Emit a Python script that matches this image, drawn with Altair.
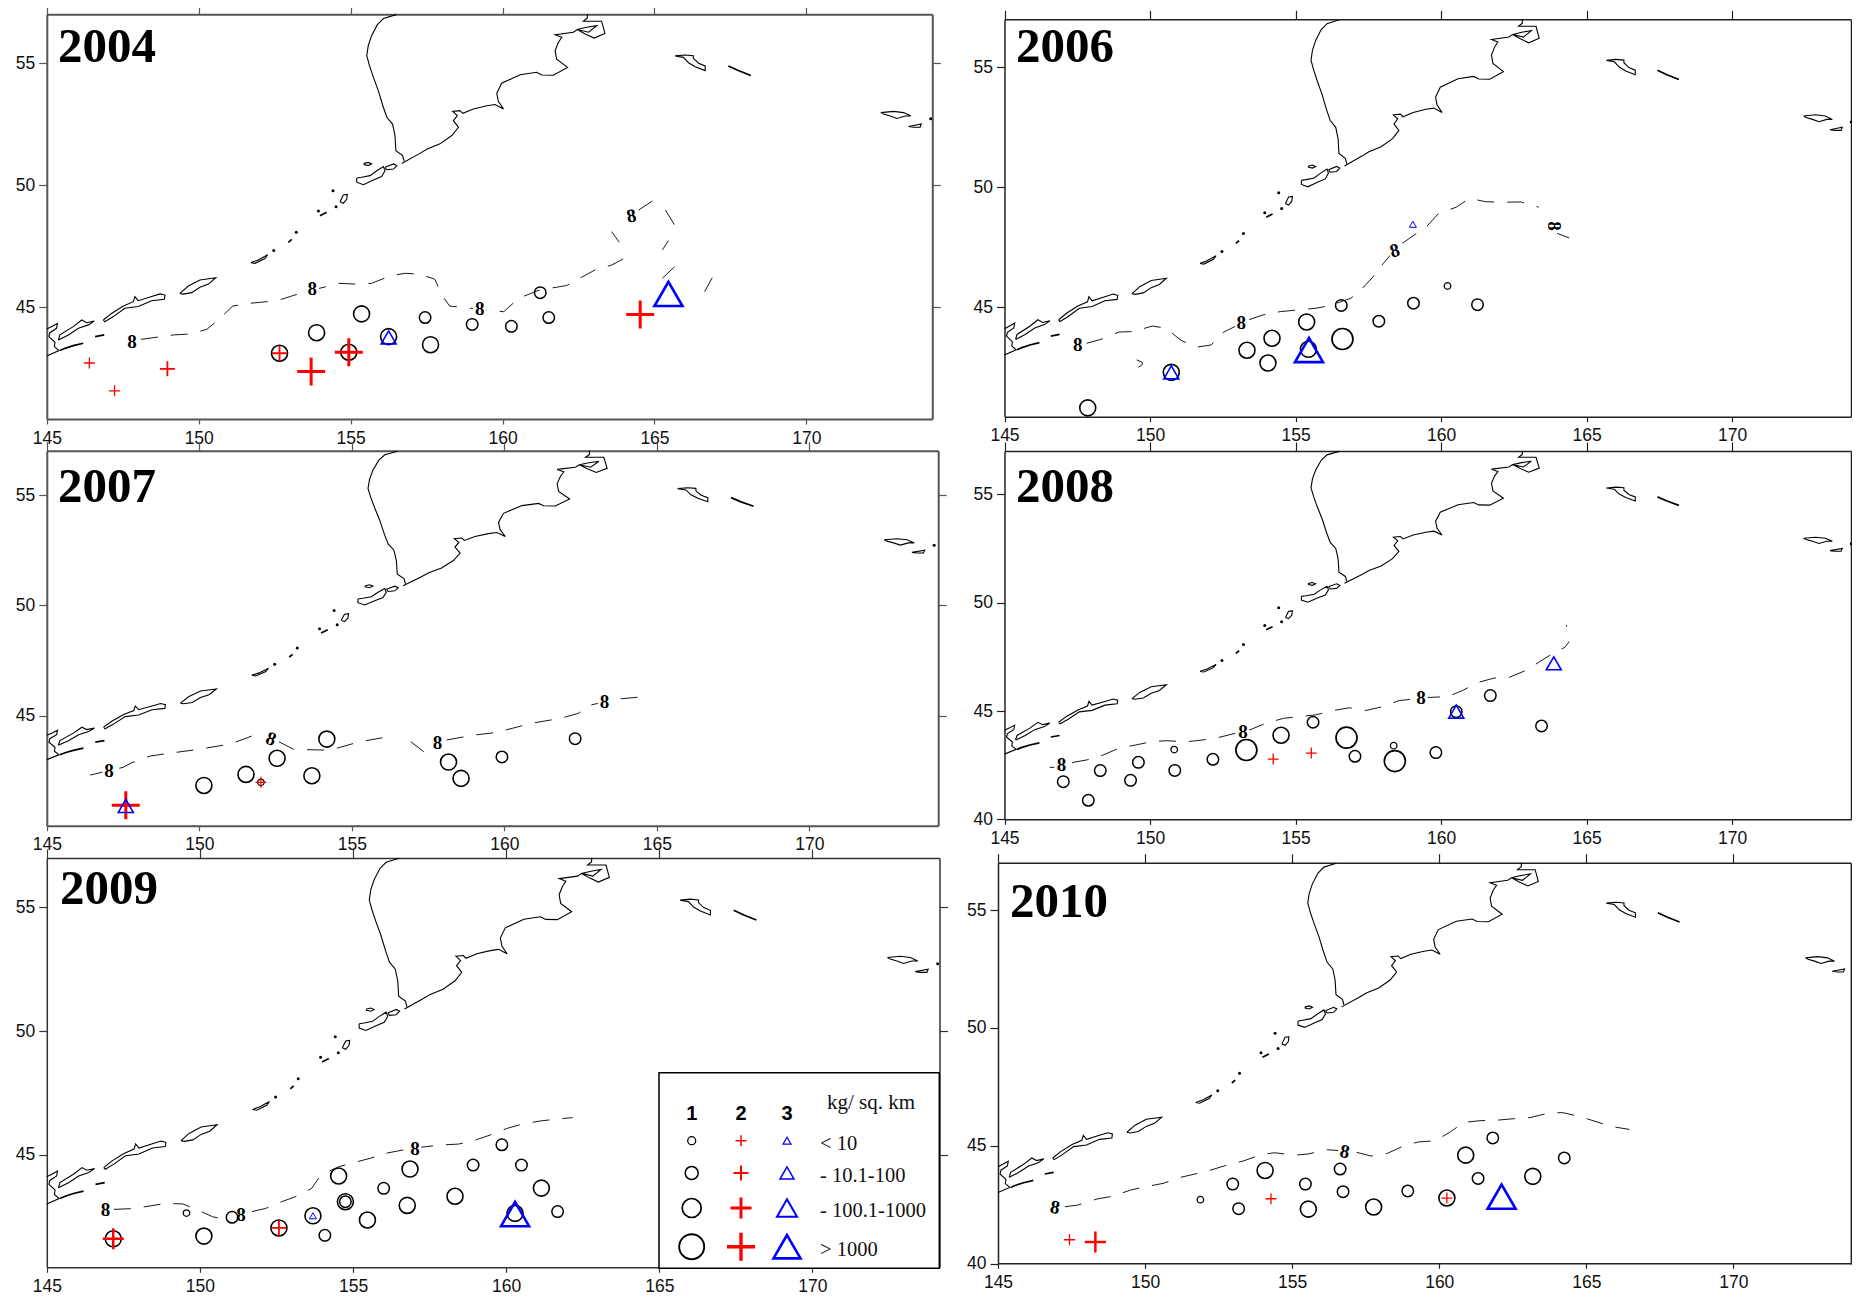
import altair as alt
import pandas as pd

# ---- geography (lon, lat) ----
KAM_WEST = [(156.50,56.98),(156.08,56.82),(155.88,56.57),(155.69,56.12),(155.58,55.71),(155.53,55.30),(155.62,54.89),(155.75,54.41),(155.91,53.87),(156.06,53.25),(156.19,52.78),(156.38,52.50),(156.46,52.03),(156.49,51.41),(156.71,51.21),(156.76,50.98)]
KAM_EAST = [(156.68,50.89),(157.28,51.30),(157.52,51.48),(157.94,51.69),(158.33,52.03),(158.55,52.37),(158.38,52.64),(158.51,52.85),(158.36,53.02),(158.60,53.05),(158.69,52.94),(159.04,53.12),(159.48,53.25),(159.75,53.30),(160.03,53.12),(159.86,53.43),(159.81,53.76),(159.97,54.17),(160.58,54.52),(161.12,54.62),(161.29,54.51),(161.67,54.50),(162.14,54.82),(161.78,55.16),(161.73,55.51),(161.84,55.85),(161.95,56.05),(161.73,56.16),(162.33,56.26),(162.46,56.37),(162.77,56.46),(163.10,56.53),(162.83,56.26),(162.46,56.37),(162.72,56.19),(163.01,56.02),(163.37,56.21),(163.26,56.71),(162.88,56.71),(162.66,56.71),(162.79,56.84),(162.79,57.0)]
PARAMUSHIR = [(155.20,50.29),(155.36,50.32),(155.64,50.39),(155.86,50.59),(156.08,50.76),(156.13,50.59),(156.02,50.35),(155.75,50.21),(155.42,50.02),(155.20,50.12),(155.20,50.29)]
SHUMSHU = [(156.13,50.73),(156.41,50.87),(156.52,50.80),(156.41,50.66),(156.19,50.63),(156.13,50.73)]
ALAID = [(155.44,50.89),(155.58,50.93),(155.69,50.87),(155.58,50.80),(155.44,50.84),(155.44,50.89)]
ONEKOTAN = [(154.65,49.32),(154.76,49.60),(154.89,49.62),(154.87,49.42),(154.76,49.26),(154.65,49.32)]
SIMUSHIR = [(151.72,46.83),(151.96,46.94),(152.27,47.15),(152.18,47.00),(151.85,46.80),(151.72,46.83)]
URUP = [(149.38,45.57),(149.66,45.87),(150.04,46.12),(150.56,46.21),(150.32,45.95),(150.04,45.82),(149.77,45.60),(149.49,45.54),(149.38,45.57)]
ITURUP = [(146.86,44.48),(147.13,44.75),(147.52,45.05),(147.85,45.23),(147.90,45.44),(148.01,45.27),(148.45,45.44),(148.73,45.55),(148.89,45.50),(148.87,45.33),(148.45,45.27),(148.01,45.03),(147.57,44.96),(147.19,44.62),(146.91,44.41),(146.86,44.48)]
KUNASHIR = [(145.38,43.66),(145.43,43.87),(145.87,44.21),(146.15,44.48),(146.31,44.37),(146.56,44.44),(146.37,44.28),(146.04,44.14),(145.71,43.87),(145.43,43.69),(145.38,43.66)]
HOKKAIDO = [(145.0,44.11),(145.16,44.21),(145.35,44.34),(145.32,44.14),(145.10,43.96),(145.07,43.80),(145.27,43.57),(145.25,43.39),(145.40,43.23),(145.0,43.01)]
BERING = [(165.68,55.29),(166.01,55.33),(166.28,55.30),(166.28,55.19),(166.45,54.99),(166.67,54.88),(166.67,54.69),(166.34,54.85),(166.12,55.01),(165.95,55.23),(165.68,55.29)]
ATTU = [(172.45,52.97),(172.87,53.02),(173.20,52.97),(173.44,52.83),(173.25,52.83),(172.98,52.73),(172.76,52.83),(172.54,52.91),(172.45,52.97)]
AGATTU = [(173.36,52.40),(173.78,52.50),(173.74,52.37),(173.52,52.37),(173.36,52.40)]
COAST_THIN = [KAM_WEST, KAM_EAST, PARAMUSHIR, SHUMSHU, ALAID, ONEKOTAN, SIMUSHIR, URUP, ITURUP, KUNASHIR, HOKKAIDO, BERING, ATTU, AGATTU]
COAST_THICK = [[(145.43,43.23),(145.60,43.32),(145.87,43.43),(146.20,43.53)],
               [(146.59,43.80),(146.89,43.87)],
               [(167.43,54.88),(167.76,54.69),(168.17,54.49)],
               [(153.99,48.75),(154.21,48.89)],
               [(152.95,47.66),(153.06,47.78)]]
ISLETS = [(154.42,49.77),(154.52,49.12),(153.94,48.94),(153.21,48.07),(152.47,47.33),(174.09,52.72)]

# ---- survey catches: (lon, lat, class) ----
C2004 = [(155.36,44.73,3),(153.88,43.96,3),(157.45,44.58,2),(159.0,44.30,2),(160.29,44.22,2),(161.52,44.58,2),(161.24,45.60,2),(157.63,43.47,3),(156.25,43.80,3),(152.66,43.12,3),(154.94,43.16,3)]
X2004 = [(146.40,42.72,1),(147.23,41.58,1),(148.97,42.48,2),(152.66,43.12,2),(154.94,43.16,4),(153.70,42.37,4),(164.53,44.71,4)]
T2004 = [(156.25,43.77,2),(165.46,45.55,4)]
L2004 = [[(148.10,43.69),(149.18,43.87),(149.74,43.91),(150.27,44.10),(150.66,44.51),(151.12,45.05),(151.65,45.16),(152.24,45.23),(152.73,45.33),(153.33,45.57),(154.61,45.98),(155.20,45.95),(155.69,45.98),(156.29,46.28),(156.78,46.39),(157.27,46.36),(157.77,46.15),(158.0,45.50),(158.26,45.05),(158.95,44.96),(160.04,44.82),(160.53,45.37),(161.22,45.71),(162.11,45.89),(162.60,46.23),(163.09,46.56),(163.59,46.73),(164.08,47.05)],
         [(165.26,46.19),(165.66,46.66)],[(165.26,47.35),(165.46,47.73)],[(163.59,48.10),(163.84,47.66)],[(164.48,48.98),(164.93,49.35)],[(165.36,48.98),(165.66,48.37)],[(166.65,45.64),(166.90,46.21)]]
E2004 = [(147.80,43.59,0),(153.74,45.74,0),(159.25,44.92,0),(164.24,48.74,-10)]

C2006 = [(147.86,40.81,3),(150.73,42.29,3),(153.33,43.21,3),(154.19,43.71,3),(154.05,42.68,3),(155.38,44.39,3),(155.44,43.25,3),(156.61,43.68,4),(156.57,45.08,2),(157.86,44.42,2),(159.05,45.17,2),(160.22,45.89,1),(161.25,45.11,2)]
X2006 = []
T2006 = [(150.73,42.29,2),(155.46,43.22,4),(159.03,48.46,1)]
L2006 = [[(147.82,43.50),(148.33,43.67),(148.93,43.97),(149.44,43.99),(150.08,44.22),(150.54,44.13),(151.05,43.64),(151.55,43.33),(152.10,43.43),(152.52,43.96),(153.37,44.47),(153.87,44.68),(154.48,44.82),(155.08,44.89),(155.69,44.96),(156.19,45.07),(156.90,45.38),(157.24,45.72),(157.64,46.24),(158.0,46.81),(158.51,47.53),(159.07,48.01),(159.52,48.39),(159.92,48.92),(160.52,49.17),(160.97,49.54),(161.53,49.40),(162.14,49.38),(162.74,49.39),(163.35,49.17)],
         [(163.99,48.08),(164.40,47.89)],[(149.54,42.81),(149.72,42.72),(149.74,42.62),(149.60,42.50)]]
E2006 = [(147.52,43.43,0),(153.13,44.33,0),(158.41,47.36,-15),(163.89,48.39,90)]

C2007 = [(150.15,41.84,3),(151.53,42.34,3),(152.02,41.98,1),(152.55,43.07,3),(154.18,43.94,3),(153.69,42.28,3),(158.17,42.90,3),(158.58,42.16,3),(159.92,43.13,2),(162.32,43.96,2)]
X2007 = [(152.02,41.98,1),(147.59,40.94,4)]
T2007 = [(147.59,40.91,2)]
L2007 = [[(146.42,42.31),(147.50,42.66),(147.79,42.87),(148.38,43.17),(148.97,43.29),(149.95,43.47),(151.03,43.72),(151.72,44.08),(152.11,44.11)],
         [(152.61,43.82),(153.10,43.47),(154.28,43.44),(155.26,43.82),(156.34,44.08)],
         [(156.93,43.82),(157.36,43.37)],
         [(158.11,43.90),(158.99,44.12),(159.68,44.23),(160.27,44.43),(160.86,44.65),(161.84,44.88),(162.43,45.11),(162.83,45.48),(163.61,45.74),(164.79,45.89)]]
E2007 = [(147.04,42.51,0),(152.35,43.94,20),(157.81,43.75,0),(163.28,45.62,0)]

C2008 = [(147.02,41.74,2),(147.88,40.88,2),(148.29,42.25,2),(149.33,41.80,2),(149.60,42.63,2),(150.83,43.22,1),(150.85,42.26,2),(152.16,42.77,2),(153.31,43.20,4),(154.50,43.88,3),(155.60,44.48,2),(156.75,43.77,4),(157.04,42.91,2),(158.41,42.69,4),(158.37,43.40,1),(159.82,43.08,2),(160.52,44.97,2),(161.69,45.71,2),(163.45,44.31,2)]
X2008 = [(154.23,42.78,1),(155.54,43.06,1)]
T2008 = [(160.52,44.97,2),(163.87,47.20,2)]
L2008 = [[(147.32,42.62),(147.82,42.74),(148.39,42.97),(148.93,43.28),(149.50,43.43),(150.04,43.58),(150.54,43.63),(151.25,43.58),(151.79,43.66),(152.36,43.78),(153.47,44.15),(153.97,44.43),(154.58,44.66),(155.12,44.74),(155.69,44.82),(156.29,45.02),(156.85,45.15),(157.40,45.02),(158.0,45.20),(158.55,45.48),(159.62,45.63),(160.22,45.66),(160.73,45.94),(161.27,46.32),(161.83,46.52),(162.34,46.55),(162.94,46.89),(163.39,47.28),(163.91,47.71),(164.25,47.94),(164.40,48.20)],
         [(164.31,48.97),(164.31,48.89)],[(146.55,42.40),(146.71,42.40)]]
E2008 = [(146.96,42.51,0),(153.19,44.02,0),(159.31,45.58,0)]

C2009 = [(147.17,41.60,3),(149.56,42.64,1),(150.13,41.71,3),(151.05,42.47,2),(152.58,42.04,3),(153.69,42.53,3),(154.08,41.74,2),(154.53,44.14,3),(154.75,43.10,3),(154.75,43.10,2),(156.0,43.64,2),(155.47,42.36,3),(156.86,44.42,3),(156.77,42.95,3),(158.33,43.32,3),(158.92,44.58,2),(159.86,45.40,2),(160.50,44.58,2),(160.29,42.63,3),(161.15,43.65,3),(161.68,42.70,2)]
X2009 = [(147.17,41.60,3),(152.58,42.04,2)]
T2009 = [(153.69,42.53,1),(160.29,42.60,4)]
L2009 = [[(147.19,42.79),(147.78,42.82),(148.33,42.92),(148.86,43.03),(149.44,43.01),(149.93,42.76),(150.42,42.49),(150.91,42.36)],
         [(151.70,42.70),(152.15,42.83),(152.67,43.10),(153.20,43.34),(153.65,43.64),(153.95,44.18),(154.53,44.51),(155.02,44.68),(155.55,44.85),(156.04,45.05),(156.63,45.19),(157.33,45.32),(157.86,45.39),(158.45,45.43),(158.94,45.57),(159.49,45.80),(160.02,46.06),(160.50,46.23),(161.09,46.36),(161.58,46.43),(162.17,46.50)]]
E2009 = [(146.92,42.76,0),(151.34,42.56,0),(157.02,45.23,0)]

C2010 = [(151.88,42.71,1),(152.98,43.37,2),(153.18,42.33,2),(154.08,43.95,3),(155.45,43.37,2),(155.55,42.31,3),(156.63,44.01,2),(156.73,43.05,2),(157.77,42.40,3),(158.93,43.08,2),(160.26,42.78,3),(160.90,44.60,3),(161.32,43.61,2),(161.82,45.33,2),(163.18,43.70,3),(164.25,44.48,2)]
X2010 = [(147.43,41.01,1),(148.31,40.91,3),(154.28,42.75,1),(160.26,42.78,1)]
T2010 = [(162.12,42.84,4)]
L2010 = [[(147.27,42.41),(147.71,42.48),(148.37,42.74),(148.91,42.86),(149.51,43.12),(150.01,43.26),(150.61,43.40),(151.21,43.66),(151.70,43.80),(152.24,43.97),(152.80,44.18),(153.36,44.36),(153.96,44.63),(154.40,44.70),(155.10,44.60),(155.55,44.65),(156.19,44.83),(157.09,44.75),(157.69,44.56),(158.23,44.67),(158.79,44.99),(159.29,45.16),(159.88,45.21),(160.38,45.59),(160.84,45.99),(161.38,46.06),(161.94,46.08),(162.58,46.15),(163.08,46.19),(163.78,46.40),(164.21,46.40),(164.81,46.23),(165.33,46.02),(165.87,45.81),(166.47,45.69)]]
E2010 = [(146.94,42.38,10),(156.79,44.75,10)]

X_TICKS = [145, 150, 155, 160, 165, 170]

W, H = 1844, 1289
OFF = 8  # page margin

# panel frames in page pixels
PANELS = [
    dict(year="2004", l=46.8, x170=806.4, r=932.3, t=14.3, y55=63.0, y45=307.3, b=419.0, yt=[45,50,55], col="#555555", w=2, tx=58, ty=62, c=C2004, x=X2004, tr=T2004, ln=L2004, e=E2004),
    dict(year="2006", l=1004.5, x170=1732.2, r=1851, t=19.3, y55=67.3, y45=307.3, b=416.7, yt=[45,50,55], col="#222222", w=1.5, tx=1016, ty=62, c=C2006, x=X2006, tr=T2006, ln=L2006, e=E2006),
    dict(year="2007", l=46.8, x170=809.4, r=938.2, t=450.7, y55=495.0, y45=715.7, b=825.7, yt=[40,45,50,55], col="#555555", w=2, tx=58, ty=502, c=C2007, x=X2007, tr=T2007, ln=L2007, e=E2007),
    dict(year="2008", l=1004.5, x170=1732.2, r=1851, t=451.0, y55=494.3, y45=711.0, b=819.3, yt=[40,45,50,55], col="#222222", w=1.5, tx=1016, ty=502, c=C2008, x=X2008, tr=T2008, ln=L2008, e=E2008),
    dict(year="2009", l=46.8, x170=812.4, r=939.5, t=858.0, y55=907.3, y45=1154.7, b=1267.3, yt=[45,50,55], col="#333333", w=1.5, tx=60, ty=904, c=C2009, x=X2009, tr=T2009, ln=L2009, e=E2009),
    dict(year="2010", l=998.0, x170=1733.4, r=1850.8, t=862.7, y55=910.0, y45=1145.7, b=1263.3, yt=[40,45,50,55], col="#222222", w=1.5, tx=1010, ty=917, c=C2010, x=X2010, tr=T2010, ln=L2010, e=E2010),
]

CROSS = "M-1,0L1,0M0,-1L0,1"
CIRC_D = {1: 6.5, 2: 11.5, 3: 16, 4: 21}
CROSS_W = {1: 11, 2: 15, 3: 21, 4: 28}
CROSS_SW = {1: 1.3, 2: 1.8, 3: 2.5, 4: 3}
TRI_W = {1: 7, 2: 15, 3: 19, 4: 28}
TRI_SW = {1: 1, 2: 1.6, 3: 2, 4: 2.6}
CIRC_SW = {1: 1.3, 2: 1.5, 3: 1.6, 4: 1.7}


def line_df(segs):
    rows = []
    for s, seg in enumerate(segs):
        for i, (lo, la) in enumerate(seg):
            rows.append(dict(lon=lo, lat=la, seg=s, i=i))
    return pd.DataFrame(rows)


def pts_df(pts, width, sw):
    return pd.DataFrame([dict(lon=a, lat=b, size=width[c] ** 2, sw=sw[c]) for a, b, c in pts])


layers = []
for p in PANELS:
    pxdeg = (p["x170"] - p["l"]) / 25.0
    pydeg = (p["y45"] - p["y55"]) / 10.0
    xmax = 145 + (p["r"] - p["l"]) / pxdeg
    ymax = 55 + (p["y55"] - p["t"]) / pydeg
    ymin = 45 - (p["b"] - p["y45"]) / pydeg
    xs = alt.Scale(domain=[145, xmax], range=[p["l"] - OFF, p["r"] - OFF], nice=False, zero=False)
    ys = alt.Scale(domain=[ymin, ymax], range=[p["b"] - OFF, p["t"] - OFF], nice=False, zero=False)
    X = alt.X("lon:Q", scale=xs, axis=None)
    Y = alt.Y("lat:Q", scale=ys, axis=None)
    anchor = pd.DataFrame([dict(lon=150, lat=50)])
    base_ax = dict(grid=False, title=None, domainColor=p["col"], domainWidth=p["w"], tickColor=p["col"], tickWidth=1.2)
    layers.append(alt.Chart(anchor).mark_point(opacity=0).encode(
        x=alt.X("lon:Q", scale=xs, axis=alt.Axis(orient="bottom", offset=p["b"] - OFF - H, values=X_TICKS, format="d", tickSize=5,
                labelFont="Liberation Sans", labelFontSize=17.5, labelColor="#111111", labelPadding=5, labelOverlap=False, labelFlush=False, **base_ax)),
        y=alt.Y("lat:Q", scale=ys, axis=alt.Axis(orient="left", offset=-(p["l"] - OFF), values=p["yt"], format="d", tickSize=8,
                labelFont="Liberation Sans", labelFontSize=17.5, labelColor="#111111", labelPadding=4, labelOverlap=False, labelFlush=False, **base_ax))))
    layers.append(alt.Chart(anchor).mark_point(opacity=0).encode(
        x=alt.X("lon:Q", scale=xs, axis=alt.Axis(orient="top", offset=-(p["t"] - OFF), values=X_TICKS, labels=False, tickSize=9, **base_ax)),
        y=alt.Y("lat:Q", scale=ys, axis=alt.Axis(orient="right", offset=p["r"] - OFF - W, values=p["yt"], labels=False, tickSize=8, **base_ax))))
    # coast
    layers.append(alt.Chart(line_df(COAST_THIN)).mark_line(color="black", strokeWidth=1.1).encode(
        x=X, y=Y, detail="seg:N", order="i:Q"))
    layers.append(alt.Chart(line_df(COAST_THICK)).mark_line(color="black", strokeWidth=1.7).encode(
        x=X, y=Y, detail="seg:N", order="i:Q"))
    layers.append(alt.Chart(pd.DataFrame(ISLETS, columns=["lon", "lat"])).mark_point(filled=True, color="black", opacity=1, size=9).encode(x=X, y=Y))
    # 8-degree isotherm
    layers.append(alt.Chart(line_df(p["ln"])).mark_line(color="black", strokeWidth=0.9, strokeDash=[17, 13]).encode(
        x=X, y=Y, detail="seg:N", order="i:Q"))
    layers.append(alt.Chart(pd.DataFrame(p["e"], columns=["lon", "lat", "ang"])).mark_point(
        filled=True, color="white", opacity=1, size=190, shape="circle").encode(x=X, y=Y))
    for lo, la, ang in p["e"]:
        layers.append(alt.Chart(pd.DataFrame([dict(lon=lo, lat=la, t="8")])).mark_text(
            font="Liberation Serif", fontSize=19, fontWeight="bold", color="black", angle=(ang % 360), baseline="middle", align="center").encode(
            x=X, y=Y, text="t:N"))
    # catches
    layers.append(alt.Chart(pts_df(p["c"], CIRC_D, CIRC_SW)).mark_point(
        shape="circle", color="black", filled=False, opacity=1).encode(
        x=X, y=Y, size=alt.Size("size:Q", scale=None, legend=None), strokeWidth=alt.StrokeWidth("sw:Q", scale=None, legend=None)))
    if p["x"]:
        layers.append(alt.Chart(pts_df(p["x"], CROSS_W, CROSS_SW)).mark_point(
            shape=CROSS, color="#ff0000", filled=False, opacity=1).encode(
            x=X, y=Y, size=alt.Size("size:Q", scale=None, legend=None), strokeWidth=alt.StrokeWidth("sw:Q", scale=None, legend=None)))
    layers.append(alt.Chart(pts_df(p["tr"], TRI_W, TRI_SW)).mark_point(
        shape="triangle-up", color="#0000ff", filled=False, opacity=1).encode(
        x=X, y=Y, size=alt.Size("size:Q", scale=None, legend=None), strokeWidth=alt.StrokeWidth("sw:Q", scale=None, legend=None)))
    # year
    layers.append(alt.Chart(pd.DataFrame([dict(t=p["year"])])).mark_text(
        font="Liberation Serif", fontSize=49, fontWeight="bold", color="black", align="left", baseline="alphabetic").encode(
        x=alt.value(p["tx"] - OFF), y=alt.value(p["ty"] - OFF), text="t:N"))

# ---- key ----
LEG_COLS = [0, 1, 2, 3, 4, 5]
LEG_COL_PX = [659, 691.7, 741, 787, 820, 939.3]
LEG_ROWS = [-1, 0, 1, 2, 3, 4, 5]
LEG_ROW_PX = [1072.7, 1114, 1140.7, 1173, 1208, 1246.7, 1268.3]
LEG_LABELS = ["< 10", "- 10.1-100", "- 100.1-1000", "> 1000"]
LEG_CIRC = [8, 13, 19, 25]
LEG_CROSS = [11, 15, 21, 28]
LEG_TRI = [8, 14, 20, 27]
LEG_SW_C = [1.3, 1.5, 1.7, 1.9]
LEG_SW_X = [1.5, 2, 3, 3.4]
LEG_SW_T = [1.2, 1.5, 2, 2.6]

lx = alt.Scale(domain=LEG_COLS, range=[v - OFF for v in LEG_COL_PX], nice=False, zero=False)
ly = alt.Scale(domain=LEG_ROWS, range=[v - OFF for v in LEG_ROW_PX], nice=False, zero=False)
LX = alt.X("c:Q", scale=lx, axis=None)
LY = alt.Y("r:Q", scale=ly, axis=None)

layers.append(alt.Chart(pd.DataFrame([dict(c=0, c2=5, r=-1, r2=5)])).mark_rect(fill="white", stroke="black", strokeWidth=1.5).encode(
    x=LX, x2="c2:Q", y=LY, y2="r2:Q"))
layers.append(alt.Chart(pd.DataFrame([dict(c=i + 1, r=0, t=str(i + 1)) for i in range(3)])).mark_text(
    font="Liberation Sans", fontWeight="bold", fontSize=20, color="black", baseline="middle").encode(x=LX, y=LY, text="t:N"))
for col, sizes, sw, shape, color in [(1, LEG_CIRC, LEG_SW_C, "circle", "black"), (2, LEG_CROSS, LEG_SW_X, CROSS, "#ff0000"), (3, LEG_TRI, LEG_SW_T, "triangle-up", "#0000ff")]:
    df = pd.DataFrame([dict(c=col, r=i + 1, size=sizes[i] ** 2, sw=sw[i]) for i in range(4)])
    layers.append(alt.Chart(df).mark_point(shape=shape, color=color, filled=False, opacity=1).encode(
        x=LX, y=LY, size=alt.Size("size:Q", scale=None, legend=None), strokeWidth=alt.StrokeWidth("sw:Q", scale=None, legend=None)))
layers.append(alt.Chart(pd.DataFrame([dict(c=4, r=i + 1, t=s) for i, s in enumerate(LEG_LABELS)])).mark_text(
    font="Liberation Serif", fontSize=20.5, color="#111111", align="left", baseline="middle", dy=3).encode(x=LX, y=LY, text="t:N"))
layers.append(alt.Chart(pd.DataFrame([dict(c=4, r=0, t="kg/ sq. km")])).mark_text(
    font="Liberation Serif", fontSize=21, color="#111111", align="left", baseline="middle", dx=7, dy=-11).encode(x=LX, y=LY, text="t:N"))

chart = alt.layer(*layers).resolve_scale(x="independent", y="independent").resolve_axis(x="independent", y="independent").properties(
    width=W, height=H, padding=0, autosize=alt.AutoSizeParams(type="none"), background="white"
).configure_view(strokeOpacity=0)

chart.save("out.html", embed_options={"renderer": "svg", "actions": False})
